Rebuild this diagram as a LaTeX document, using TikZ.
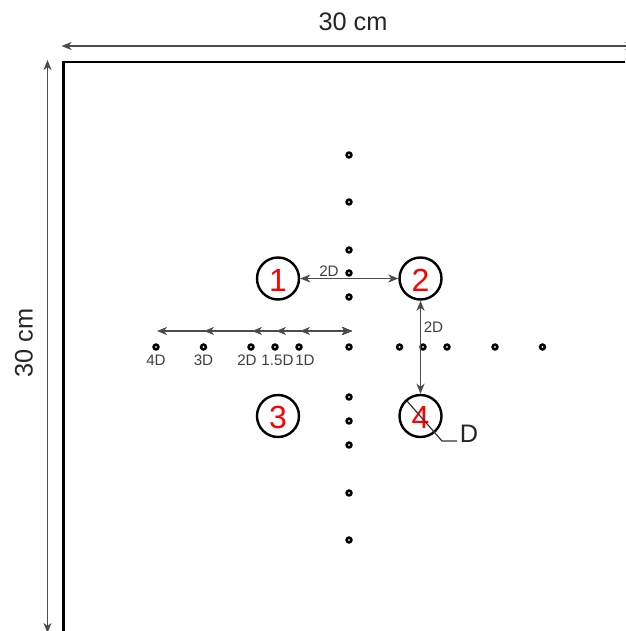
\documentclass[tikz,border=0pt]{standalone}
\usepackage{fontspec}
\usetikzlibrary{arrows.meta}
\setmainfont{Liberation Sans}

\begin{document}
\begin{tikzpicture}[x=0.75pt, y=-0.75pt, >={Stealth[length=7.5pt,width=6pt,inset=2.2pt]},
                    main node/.style={circle,draw,line width=1.8pt,minimum size=31.5pt,inner sep=0pt,text=red,text height=19.2pt,text depth=0pt,font=\fontsize{24}{24}\selectfont},
                    dot node/.style={circle,draw,line width=1.9pt,minimum size=3.6pt,inner sep=0pt},
                    small label/.style={inner sep=0pt,text=black!75,font=\fontsize{11.4}{11.4}\selectfont},
                    big label/.style={inner sep=0pt,text=black!85,font=\fontsize{19}{19}\selectfont},
                    dim line/.style={<->,line width=1.15pt,black!70}]

  \useasboundingbox (0,0) rectangle (625,631);

  % tank
  \coordinate (tr) at (625,62);
  \coordinate (tl) at (63.5,62);
  \coordinate (bl) at (63.5,631);
  \draw[line width=2.2pt] (tr) -- (tl) -- (bl);

  % outer dimensions
  \coordinate (w1) at (61.5,46);
  \coordinate (w2) at (635,46);
  \coordinate (h1) at (47.5,60);
  \coordinate (h2) at (47.5,633);
  \draw[dim line] (w1) -- (w2);
  \draw[dim line] (h1) -- (h2);
  \node[big label] (width) at (353,22) {30 cm};
  \node[big label,rotate=90] (height) at (24,343) {30 cm};

  % cylinders
  \node[main node] (1) at (278,278.5) {1};
  \node[main node] (2) at (420.5,278.5) {2};
  \node[main node] (4) at (420.5,416) {4};
  \node[main node] (3) at (278,416) {3};

  % probes
  \foreach \name/\x/\y in {v1/349/155, v2/349/202, v3/349/250, v4/349/273, v5/349/297,
                           c/349/347,
                           v6/349/397, v7/349/421, v8/349/445, v9/349/493, v10/349/540,
                           l4/156/347, l3/203.5/347, l2/251/347, l15/275/347, l1/299/347,
                           r1/399.5/347, r2/423/347, r3/447/347, r4/495/347, r5/542.5/347}
    \node[dot node] (\name) at (\x,\y) {};

  % spacing arrows
  \coordinate (a0) at (352,331);
  \coordinate (a1) at (300,331);
  \coordinate (a2) at (276,331);
  \coordinate (a3) at (252,331);
  \coordinate (a4) at (204,331);
  \coordinate (a5) at (157,331);
  \draw[dim line] (a0) -- (a1);
  \draw[dim line] (a0) -- (a2);
  \draw[dim line] (a0) -- (a3);
  \draw[dim line] (a0) -- (a4);
  \draw[dim line] (a0) -- (a5);
  \draw[dim line] (1) -- (2);
  \draw[dim line] (2) -- (4);

  \node[small label] (d4) at (156,360.5) {4D};
  \node[small label] (d3) at (203.5,360.5) {3D};
  \node[small label] (d2) at (247,360.5) {2D};
  \node[small label] (d15) at (277.5,360.5) {1.5D};
  \node[small label] (d1) at (305,360.5) {1D};
  \node[small label] (p12) at (329,271) {2D};
  \node[small label] (p24) at (433.5,327) {2D};

  % diameter
  \coordinate (da) at (407,401);
  \coordinate (db) at (442,441);
  \node[big label] (dia) at (469,434) {D};
  \coordinate (dc) at (457,441);
  \draw[line width=0.9pt,black!80] (da) -- (db) -- (dc);

\end{tikzpicture}
\end{document}
